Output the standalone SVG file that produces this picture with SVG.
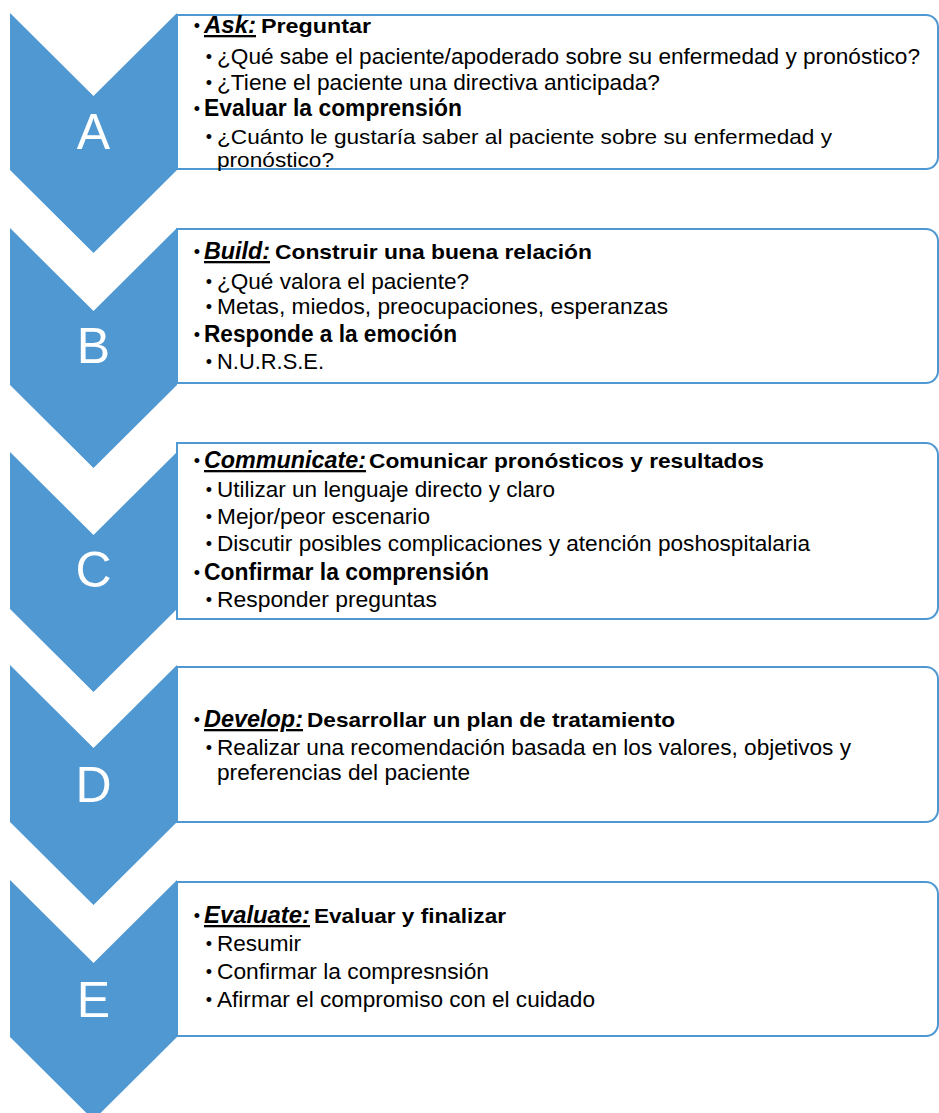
<svg xmlns="http://www.w3.org/2000/svg" width="939" height="1113" viewBox="0 0 939 1113">
<style>
.chev{fill:#5098D2}
.box{fill:#ffffff;stroke:#5098D2;stroke-width:2}
.letter{font-family:"Liberation Sans",Arial,sans-serif;font-size:50px;fill:#ffffff;text-anchor:middle}
.t{font-family:"Liberation Sans",Arial,sans-serif;fill:#000000}
.kw{font-size:23px;font-weight:bold;font-style:italic;text-decoration:underline}
.hd{font-size:21px;font-weight:bold}
.l1{font-size:23px;font-weight:bold}
.l2{font-size:22px}
.l2s{font-size:21px}
.bul{font-size:18px;text-anchor:middle}
</style>
<rect width="939" height="1113" fill="#ffffff"/>
<g id="connectors"></g>

<g id="node-A">
<path class="box" d="M177 15 H926 A12 12 0 0 1 938 27 V157 A12 12 0 0 1 926 169 H177 Z"/>
<polygon class="chev" points="10,13 93.5,96 177,13 177,170 93.5,253 10,170"/>
<text class="letter" x="93.5" y="149">A</text>
<text class="t bul" x="197" y="32">•</text>
<text class="t kw" x="204" y="33" textLength="52" lengthAdjust="spacingAndGlyphs">Ask:</text>
<text class="t hd" x="261" y="33" textLength="110" lengthAdjust="spacingAndGlyphs">Preguntar</text>
<text class="t bul" x="209" y="63">•</text>
<text class="t l2" x="217" y="64" textLength="703" lengthAdjust="spacingAndGlyphs">¿Qué sabe el paciente/apoderado sobre su enfermedad y pronóstico?</text>
<text class="t bul" x="209" y="89">•</text>
<text class="t l2" x="217" y="90" textLength="443" lengthAdjust="spacingAndGlyphs">¿Tiene el paciente una directiva anticipada?</text>
<text class="t bul" x="197" y="115">•</text>
<text class="t l1" x="204" y="116" textLength="258" lengthAdjust="spacingAndGlyphs">Evaluar la comprensión</text>
<text class="t bul" x="209" y="143">•</text>
<text class="t l2s" x="217" y="144" textLength="615" lengthAdjust="spacingAndGlyphs">¿Cuánto le gustaría saber al paciente sobre su enfermedad y</text>
<text class="t l2s" x="217" y="167" textLength="117" lengthAdjust="spacingAndGlyphs">pronóstico?</text>
</g>

<g id="node-B">
<path class="box" d="M177 229 H926 A12 12 0 0 1 938 241 V371 A12 12 0 0 1 926 383 H177 Z"/>
<polygon class="chev" points="10,228 93.5,311 177,228 177,385 93.5,468 10,385"/>
<text class="letter" x="93.5" y="363">B</text>
<text class="t bul" x="197" y="258">•</text>
<text class="t kw" x="204" y="259" textLength="66" lengthAdjust="spacingAndGlyphs">Build:</text>
<text class="t hd" x="275" y="259" textLength="317" lengthAdjust="spacingAndGlyphs">Construir una buena relación</text>
<text class="t bul" x="209" y="288">•</text>
<text class="t l2" x="217" y="289" textLength="252" lengthAdjust="spacingAndGlyphs">¿Qué valora el paciente?</text>
<text class="t bul" x="209" y="313">•</text>
<text class="t l2" x="217" y="314" textLength="451" lengthAdjust="spacingAndGlyphs">Metas, miedos, preocupaciones, esperanzas</text>
<text class="t bul" x="197" y="341">•</text>
<text class="t l1" x="204" y="342" textLength="253" lengthAdjust="spacingAndGlyphs">Responde a la emoción</text>
<text class="t bul" x="209" y="368">•</text>
<text class="t l2" x="217" y="369" textLength="107" lengthAdjust="spacingAndGlyphs">N.U.R.S.E.</text>
</g>

<g id="node-C">
<path class="box" d="M177 443 H926 A12 12 0 0 1 938 455 V607 A12 12 0 0 1 926 619 H177 Z"/>
<polygon class="chev" points="10,452 93.5,535 177,452 177,609 93.5,692 10,609"/>
<text class="letter" x="93.5" y="587">C</text>
<text class="t bul" x="197" y="467">•</text>
<text class="t kw" x="204" y="468" textLength="162" lengthAdjust="spacingAndGlyphs">Communicate:</text>
<text class="t hd" x="369" y="468" textLength="395" lengthAdjust="spacingAndGlyphs">Comunicar pronósticos y resultados</text>
<text class="t bul" x="209" y="496">•</text>
<text class="t l2" x="217" y="497" textLength="338" lengthAdjust="spacingAndGlyphs">Utilizar un lenguaje directo y claro</text>
<text class="t bul" x="209" y="523">•</text>
<text class="t l2" x="217" y="524" textLength="213" lengthAdjust="spacingAndGlyphs">Mejor/peor escenario</text>
<text class="t bul" x="209" y="550">•</text>
<text class="t l2" x="217" y="551" textLength="593" lengthAdjust="spacingAndGlyphs">Discutir posibles complicaciones y atención poshospitalaria</text>
<text class="t bul" x="197" y="579">•</text>
<text class="t l1" x="204" y="580" textLength="285" lengthAdjust="spacingAndGlyphs">Confirmar la comprensión</text>
<text class="t bul" x="209" y="606">•</text>
<text class="t l2" x="217" y="607" textLength="220" lengthAdjust="spacingAndGlyphs">Responder preguntas</text>
</g>

<g id="node-D">
<path class="box" d="M177 667 H926 A12 12 0 0 1 938 679 V810 A12 12 0 0 1 926 822 H177 Z"/>
<polygon class="chev" points="10,665 93.5,748 177,665 177,822 93.5,905 10,822"/>
<text class="letter" x="93.5" y="802">D</text>
<text class="t bul" x="197" y="726">•</text>
<text class="t kw" x="204" y="727" textLength="99" lengthAdjust="spacingAndGlyphs">Develop:</text>
<text class="t hd" x="307" y="727" textLength="368" lengthAdjust="spacingAndGlyphs">Desarrollar un plan de tratamiento</text>
<text class="t bul" x="209" y="754">•</text>
<text class="t l2" x="217" y="755" textLength="634" lengthAdjust="spacingAndGlyphs">Realizar una recomendación basada en los valores, objetivos y</text>
<text class="t l2" x="217" y="780" textLength="253" lengthAdjust="spacingAndGlyphs">preferencias del paciente</text>
</g>

<g id="node-E">
<path class="box" d="M177 882 H926 A12 12 0 0 1 938 894 V1024 A12 12 0 0 1 926 1036 H177 Z"/>
<polygon class="chev" points="10,880 93.5,963 177,880 177,1037 93.5,1120 10,1037"/>
<text class="letter" x="93.5" y="1017">E</text>
<text class="t bul" x="197" y="922">•</text>
<text class="t kw" x="204" y="923" textLength="106" lengthAdjust="spacingAndGlyphs">Evaluate:</text>
<text class="t hd" x="314" y="923" textLength="192" lengthAdjust="spacingAndGlyphs">Evaluar y finalizar</text>
<text class="t bul" x="209" y="950">•</text>
<text class="t l2" x="217" y="951" textLength="84" lengthAdjust="spacingAndGlyphs">Resumir</text>
<text class="t bul" x="209" y="978">•</text>
<text class="t l2" x="217" y="979" textLength="272" lengthAdjust="spacingAndGlyphs">Confirmar la compresnsión</text>
<text class="t bul" x="209" y="1006">•</text>
<text class="t l2" x="217" y="1007" textLength="378" lengthAdjust="spacingAndGlyphs">Afirmar el compromiso con el cuidado</text>
</g>
</svg>
